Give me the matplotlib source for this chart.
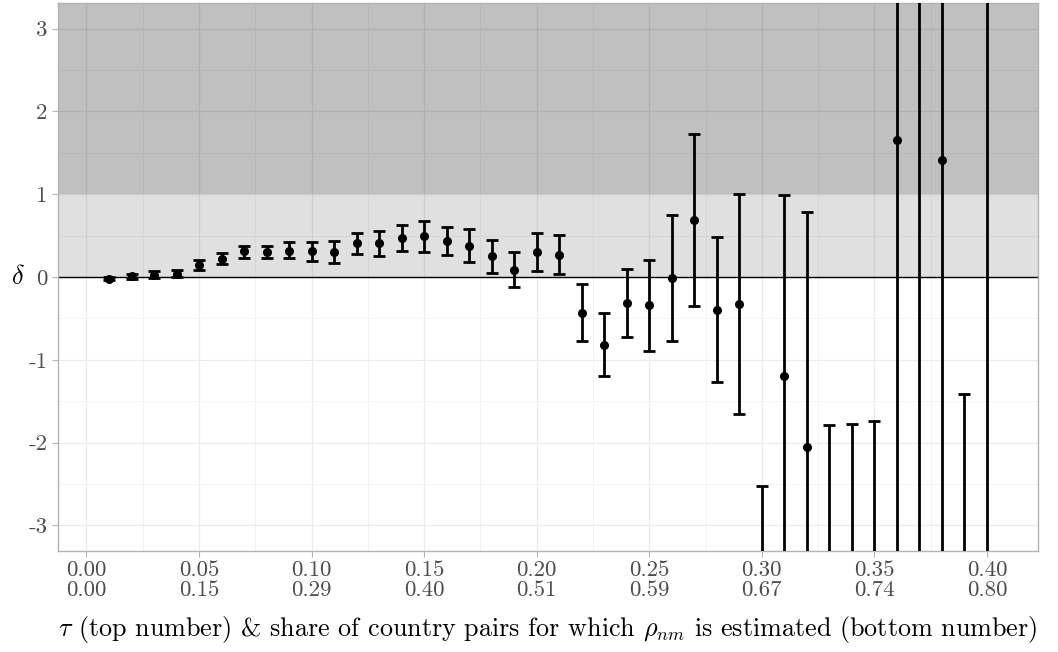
import matplotlib
matplotlib.use("Agg")
import matplotlib.pyplot as plt
import numpy as np

plt.rcParams['font.family'] = ['cmr10']
plt.rcParams['mathtext.fontset'] = 'cm'
plt.rcParams['axes.unicode_minus'] = False

# Data
tau = [0.01, 0.02, 0.03, 0.04, 0.05, 0.06, 0.07, 0.08, 0.09, 0.10,
       0.11, 0.12, 0.13, 0.14, 0.15, 0.16, 0.17, 0.18, 0.19, 0.20,
       0.21, 0.22, 0.23, 0.24, 0.25, 0.26, 0.27, 0.28, 0.29, 0.30,
       0.31, 0.32, 0.33, 0.34, 0.35, 0.36, 0.37, 0.38, 0.39, 0.40]
delta = [-0.02, 0.01, 0.03, 0.04, 0.15, 0.22, 0.31, 0.30, 0.32, 0.31,
         0.30, 0.41, 0.41, 0.47, 0.49, 0.44, 0.38, 0.25, 0.09, 0.30,
         0.27, -0.43, -0.82, -0.31, -0.34, -0.01, 0.69, -0.40, -0.33, -4.5,
         -1.20, -2.05, -4.2, -4.2, -4.2, 1.65, 4.5, 1.41, -5.0, -4.5]
lower = [-0.04, -0.02, -0.01, 0.00, 0.09, 0.16, 0.23, 0.23, 0.23, 0.19,
         0.17, 0.28, 0.25, 0.31, 0.30, 0.27, 0.18, 0.05, -0.12, 0.07,
         0.04, -0.77, -1.20, -0.72, -0.89, -0.77, -0.35, -1.27, -1.66, -6.5,
         -3.40, -4.90, -6.6, -6.6, -6.7, -4.35, -4.0, -4.6, -8.6, -13.0]
upper = [0.00, 0.04, 0.07, 0.09, 0.21, 0.29, 0.38, 0.38, 0.42, 0.42,
         0.44, 0.53, 0.56, 0.63, 0.68, 0.61, 0.58, 0.45, 0.30, 0.53,
         0.51, -0.09, -0.44, 0.10, 0.20, 0.75, 1.73, 0.48, 1.00, -2.53,
         0.99, 0.79, -1.79, -1.78, -1.74, 7.65, 13.0, 7.4, -1.41, 4.0]
tick_top = ["0.00", "0.05", "0.10", "0.15", "0.20", "0.25", "0.30", "0.35", "0.40"]
tick_bottom = ["0.00", "0.15", "0.29", "0.40", "0.51", "0.59", "0.67", "0.74", "0.80"]
y_ticks = [-3, -2, -1, 0, 1, 2, 3]

tau = np.array(tau); delta = np.array(delta)
lower = np.array(lower); upper = np.array(upper)

fig = plt.figure(figsize=(10.58, 6.52), dpi=100)
ax = fig.add_axes([58/1058, 1-551/652, (1038-58)/1058, (551-3)/652])

ax.set_xlim(-0.01266, 0.4227)
ax.set_ylim(-3.31, 3.31)

# grid
major_x = np.arange(0, 0.401, 0.05)
minor_x = np.arange(0.025, 0.42, 0.05)
ax.set_xticks(major_x)
ax.set_xticks(minor_x, minor=True)
ax.set_yticks(y_ticks)
ax.set_yticks(np.arange(-2.5, 3.0, 1.0), minor=True)
ax.grid(which='major', color='#EBEBEB', linewidth=0.9, zorder=0)
ax.grid(which='minor', color='#F3F3F3', linewidth=0.6, zorder=0)
ax.set_axisbelow(True)

# shaded bands
ax.axhspan(0, 3.31, color='black', alpha=0.12, lw=0, zorder=1)
ax.axhspan(1, 3.31, color='black', alpha=0.14, lw=0, zorder=1)
ax.axhline(0, color='black', lw=1.0, zorder=2)

yerr = np.vstack([delta - lower, upper - delta])
ax.errorbar(tau, delta, yerr=yerr, fmt='o', color='black', ms=5.5,
            elinewidth=2.0, capsize=4.5, capthick=2.0, zorder=3)

ax.set_xticklabels([f"{a}\n{b}" for a, b in zip(tick_top, tick_bottom)], linespacing=1.0)
ax.set_yticklabels([str(v) for v in y_ticks])
ax.tick_params(axis='both', which='major', colors='#B3B3B3', labelcolor='#4D4D4D',
               labelsize=16.5, length=4, width=0.8)
ax.tick_params(axis='both', which='minor', length=0)
ax.tick_params(axis='x', pad=3)
for s in ax.spines.values():
    s.set_color('#B3B3B3')
    s.set_linewidth(1.0)

ax.set_ylabel(r'$\delta$', rotation=0, fontsize=19)
ax.yaxis.set_label_coords(-0.041, 0.5)
ax.yaxis.label.set_va('center')
ax.set_xlabel(r'$\tau$ (top number) & share of country pairs for which $\rho_{nm}$ is estimated (bottom number)',
              fontsize=18.8, labelpad=10)

fig.savefig('out.png', dpi=100)
